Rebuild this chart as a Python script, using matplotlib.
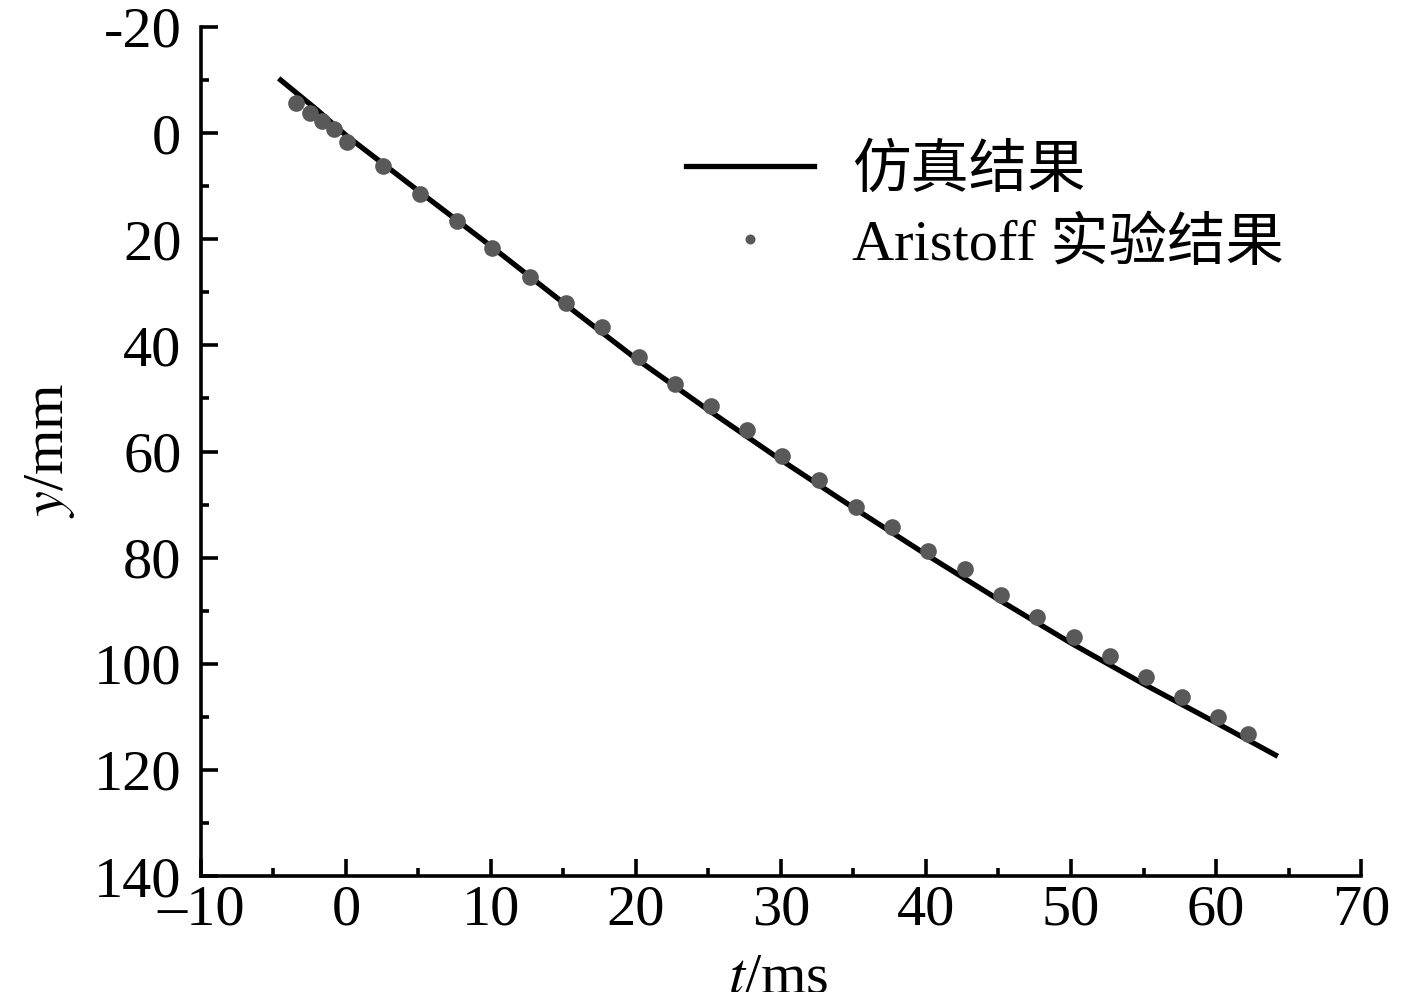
import matplotlib
matplotlib.use('Agg')
import matplotlib.pyplot as plt
from matplotlib.ticker import MultipleLocator

plt.rcParams['font.family'] = ['Liberation Serif', 'Noto Sans CJK SC']
plt.rcParams['mathtext.fontset'] = 'stix'

# 仿真结果 (simulation curve)
sim_t = [-4.5, -2.0, 0.0, 5.0, 10.0, 15.0, 20.0, 25.0, 30.0, 35.0, 40.0, 45.0, 50.0, 55.0, 60.0, 64.1]
sim_y = [-10.0, -4.4, 0.4, 10.9, 21.3, 32.0, 42.5, 52.2, 61.6, 70.6, 79.4, 87.9, 96.1, 103.8, 111.1, 117.2]

# Aristoff 实验结果 (experiment points)
exp_t = [-3.45, -2.48, -1.66, -0.83, 0.07, 2.55, 5.10, 7.66, 10.07, 12.69, 15.17, 17.66,
         20.21, 22.69, 25.17, 27.66, 30.07, 32.62, 35.17, 37.66, 40.14, 42.69, 45.17,
         47.66, 50.21, 52.69, 55.17, 57.66, 60.14, 62.21]
exp_y = [-5.7, -3.8, -2.3, -0.8, 1.7, 6.2, 11.5, 16.6, 21.7, 27.2, 32.1, 36.6,
         42.1, 47.2, 51.5, 56.0, 60.8, 65.3, 70.4, 74.3, 78.7, 82.1, 87.0,
         91.1, 94.9, 98.5, 102.5, 106.2, 110.0, 113.2]

xticks = [-10, 0, 10, 20, 30, 40, 50, 60, 70]
xticklabels = ['\u201310', '0', '10', '20', '30', '40', '50', '60', '70']
yticks = [-20, 0, 20, 40, 60, 80, 100, 120, 140]
yticklabels = ['-20', '0', '20', '40', '60', '80', '100', '120', '140']

fig = plt.figure(figsize=(14.17, 9.92), dpi=100)
ax = fig.add_axes([0.1418, 0.1169, 0.8187, 0.8559])

ax.plot(sim_t, sim_y, color='black', lw=3.8, label='仿真结果', zorder=2)
ax.plot(exp_t, exp_y, ls='none', marker='o', ms=12, color='#595959', mec='none',
        label='Aristoff 实验结果', zorder=3)

ax.set_xlim(-10, 70)
ax.set_ylim(140, -20)
ax.set_xticks(xticks)
ax.set_xticklabels(xticklabels)
ax.set_yticks(yticks)
ax.set_yticklabels(yticklabels)
ax.xaxis.set_minor_locator(MultipleLocator(5))
ax.yaxis.set_minor_locator(MultipleLocator(10))

for s in ['top', 'right']:
    ax.spines[s].set_visible(False)
for s in ['left', 'bottom']:
    ax.spines[s].set_linewidth(2.6)

ax.tick_params(which='both', direction='in', width=2.6, labelsize=42)
ax.tick_params(which='major', length=12)
ax.tick_params(which='minor', length=6)
ax.tick_params(axis='y', pad=14)
ax.tick_params(axis='x', pad=6)

ax.set_xlabel('$t$/ms', fontsize=42)
ax.xaxis.set_label_coords(0.498, -0.1366)
ax.xaxis.label.set_va('baseline')
ax.set_ylabel('$y$/mm', fontsize=42)
ax.yaxis.set_label_coords(-0.13, 0.502)
ax.yaxis.label.set_va('center')

ax.legend(loc='upper left', bbox_to_anchor=(0.418, 0.862), frameon=False, fontsize=42,
          handlelength=2.2, handletextpad=0.65, labelspacing=0.32, borderpad=0,
          borderaxespad=0, markerscale=0.6)

fig.savefig('out.png', dpi=100)
